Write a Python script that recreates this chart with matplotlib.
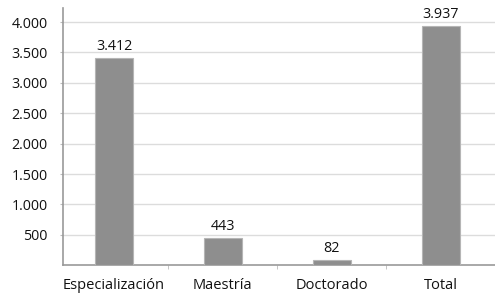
import numpy as np
import matplotlib.pyplot as plt
from matplotlib.ticker import FuncFormatter

categorias = ["Especialización", "Maestría", "Doctorado", "Total"]
valores = [3412, 443, 82, 3937]
y_ticks = [500, 1000, 1500, 2000, 2500, 3000, 3500, 4000]

plt.rcParams['font.family'] = ['Open Sans', 'DejaVu Sans']

fig = plt.figure(figsize=(4.95, 2.98), dpi=100)
ax = fig.add_axes([0.127, 0.11, 0.873, 0.863])

x = np.arange(len(categorias))
bars = ax.bar(x, valores, width=0.35, color='#8e8e8e', edgecolor='#b5b5b5', linewidth=0.8, zorder=3)

def miles(v, pos=None):
    return f"{int(v):,}".replace(",", ".")

for b, v in zip(bars, valores):
    ax.text(b.get_x() + b.get_width() / 2, v + 70, miles(v), ha='center', va='bottom',
            fontsize=10.3, color='#111111', fontweight='medium')

ax.set_yticks(y_ticks)
ax.yaxis.set_major_formatter(FuncFormatter(miles))
ax.set_ylim(0, 4230)
ax.set_xlim(-0.47, 3.5)
ax.set_xticks(x)
ax.set_xticklabels(categorias, fontweight='medium')
for t in ax.get_yticklabels():
    t.set_fontweight('medium')
ax.set_xticks([0.5, 1.5, 2.5, 3.5], minor=True)

ax.grid(axis='y', color='#dcdcdc', linewidth=1.0, zorder=0)
for s in ['top', 'right']:
    ax.spines[s].set_visible(False)
ax.spines['left'].set_color('#999999')
ax.spines['bottom'].set_color('#999999')
ax.spines['left'].set_linewidth(1.2)
ax.spines['bottom'].set_linewidth(1.2)

ax.tick_params(axis='y', length=2, color='#bbbbbb', labelsize=10.3, pad=9, labelcolor='#111111')
ax.tick_params(axis='x', which='major', length=0, labelsize=10.5, pad=9, labelcolor='#111111')
ax.tick_params(axis='x', which='minor', length=3, color='#bbbbbb')

fig.savefig('out.png', dpi=100)
